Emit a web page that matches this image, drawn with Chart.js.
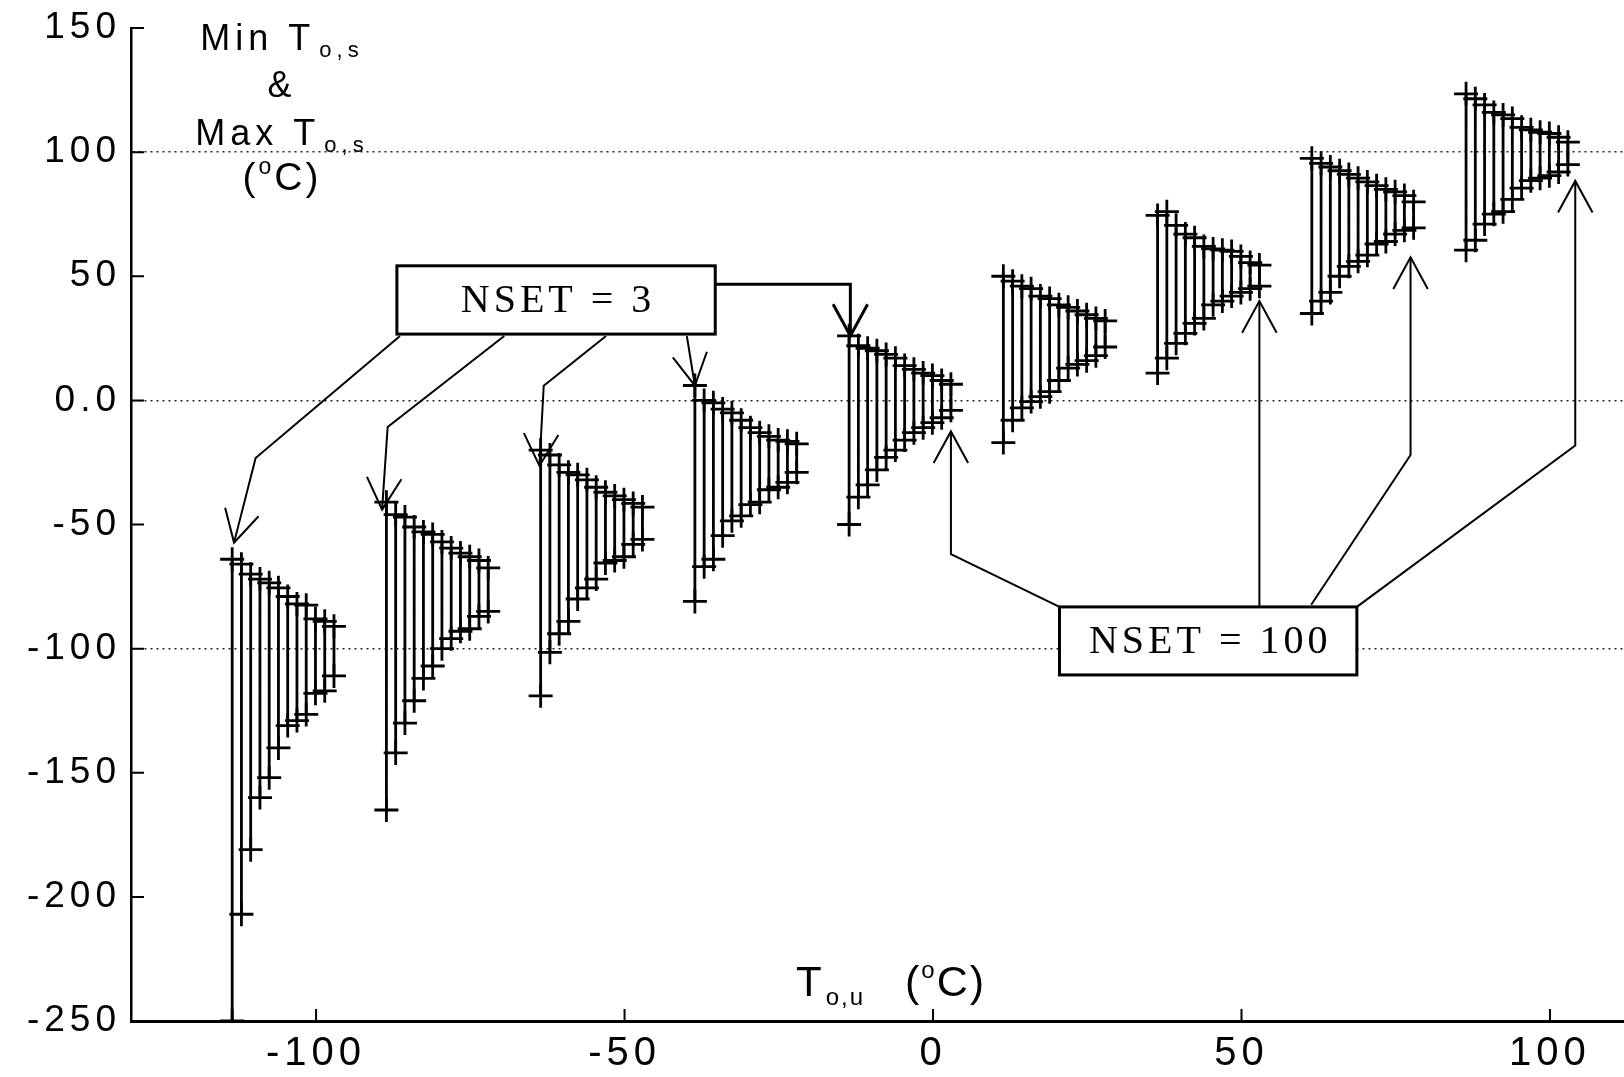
<!DOCTYPE html>
<html lang="en">
<head>
<meta charset="UTF-8">
<title>Min T o,s & Max T o,s vs T o,u</title>
<script src="https://cdn.jsdelivr.net/npm/chart.js"></script>
<style>
  html, body { margin: 0; padding: 0; background: #fff; overflow: hidden; }
  #wrap { width: 1624px; height: 1077px; }
  #chart { display: block; }
</style>
</head>
<body>
<div id="wrap"><canvas id="chart"></canvas></div>
<script>
// T o,u of the first bar in each group, and the x offset of each NSET bar inside a group
const touGroups = [-113.6, -88.6, -63.6, -38.6, -13.6, 11.4, 36.4, 61.4, 86.4];
const nsetOffset = [0, 1.5, 3, 4.5, 6, 7.5, 9, 10.5, 12, 13.5, 15, 16.5];

// Max / Min T o,s for each bar
const max1 = [-64, -66, -70, -72, -73.5, -75.5, -79, -82, -82.5, -88, -89, -91];
const min1 = [-250, -207, -181, -160, -152, -140, -131, -129, -126.5, -118, -117, -111];
const max2 = [-41, -46, -47, -51, -53, -54, -57, -59.5, -61.5, -63, -64.5, -67.5];
const min2 = [-165, -142, -130, -121, -112, -107, -100, -96, -93, -92, -87, -85];
const max3 = [-20, -22, -26, -29, -30, -32, -35, -37, -38.5, -40, -41.5, -43];
const min3 = [-119, -101.5, -94, -89, -80, -75.5, -72, -65.5, -64.5, -63, -58, -56];
const max4 = [6, 0, -1, -3.5, -5, -8, -11, -13, -14.5, -16, -16.5, -17.5];
const min4 = [-81, -67, -64, -54.5, -48.5, -46.5, -42, -41, -36, -35, -33, -29];
const max5 = [26, 22, 21, 20, 18.5, 17, 14, 12.5, 11, 10, 8, 6.5];
const min5 = [-50, -39, -34, -28, -23, -20, -16, -13, -11, -9, -7, -4];
const max6 = [50, 48, 46, 45, 42, 41, 38.5, 37.5, 36, 34.5, 33, 32];
const min6 = [-17, -8, -3, -0.5, 1.5, 3.5, 8, 13, 14.5, 16, 18, 21.5];
const max7 = [74.5, 76, 70.5, 67, 65.5, 62, 61, 60.5, 60, 58, 55.5, 54.5];
const min7 = [11, 17, 23, 27, 31, 33, 38.5, 40, 42, 43.5, 45, 46];
const max8 = [97.5, 95.5, 94, 92.5, 91, 89.5, 88, 86.5, 85, 84, 82.5, 80];
const min8 = [35, 40, 43.5, 50, 54, 56, 58.5, 63, 64, 67, 68.5, 69.5];
const max9 = [123.5, 121.5, 119, 116, 115, 113.5, 110, 109, 108, 107.5, 106, 104];
const min9 = [60.5, 64.5, 71, 75, 76, 81, 85.5, 88.5, 89.5, 90.5, 92, 95];

const xTicks = [-100, -50, 0, 50, 100];
const yTicks = [-250, -200, -150, -100, -50, 0, 50, 100, 150];
const yTickLabels = ['-250', '-200', '-150', '-100', '-50', '0.0', '50', '100', '150'];
const dottedAt = [-100, 0, 100];

const maxVals = [max1, max2, max3, max4, max5, max6, max7, max8, max9];
const minVals = [min1, min2, min3, min4, min5, min6, min7, min8, min9];

// vertical range lines (null breaks the line between bars) and the + markers
const rangePts = [];
const crossPts = [];
touGroups.forEach((x0, g) => {
  nsetOffset.forEach((dx, i) => {
    const x = x0 + dx;
    rangePts.push({ x: x, y: minVals[g][i] }, { x: x, y: maxVals[g][i] }, { x: x, y: null });
    crossPts.push({ x: x, y: minVals[g][i] }, { x: x, y: maxVals[g][i] });
  });
});

// callouts, in data units
const calloutBoxes = [
  { text: 'NSET = 3', x0: -86.9, x1: -35.3, y0: 54.2, y1: 26.7 },
  { text: 'NSET = 100', x0: 20.5, x1: 68.7, y0: -83.2, y1: -110.6 }
];
const calloutArrows = [
  [[-86.4, 25.9], [-109.8, -23.2], [-113.3, -57.3]],
  [[-69.5, 25.9], [-88.4, -10.7], [-89.3, -44.0]],
  [[-53.0, 25.9], [-63.1, 5.9], [-63.8, -26.3]],
  [[-39.9, 25.9], [-38.6, 5.9]],
  [[-35.3, 46.8], [-13.4, 46.8], [-13.4, 26]],
  [[20.5, -83.2], [2.9, -61.9], [2.9, -12.5]],
  [[52.9, -83.2], [52.9, 40]],
  [[61.3, -82.3], [77.4, -22], [77.4, 57.6]],
  [[68.7, -83.2], [104.1, -18.2], [104.1, 88.4]]
];

const SANS = '"Liberation Sans", Arial, sans-serif';
const SERIF = '"Liberation Serif", "Times New Roman", serif';

// draws a line of text pieces (subscripts / superscripts) centred on cx
function drawRuns(ctx, parts, cx, baseline, spacing) {
  ctx.letterSpacing = spacing + 'px';
  let total = 0;
  parts.forEach(p => {
    ctx.font = p.s + 'px ' + SANS;
    p.w = ctx.measureText(p.t).width;
    total += p.w + (p.gap || 0);
  });
  let x = cx - total / 2;
  ctx.textAlign = 'left';
  ctx.textBaseline = 'alphabetic';
  parts.forEach(p => {
    x += p.gap || 0;
    ctx.font = p.s + 'px ' + SANS;
    ctx.fillText(p.t, x, baseline + (p.dy || 0));
    x += p.w;
  });
}

function arrowHead(ctx, from, tip, len, ang) {
  const a = Math.atan2(tip.y - from.y, tip.x - from.x);
  ctx.beginPath();
  ctx.moveTo(tip.x - len * Math.cos(a - ang), tip.y - len * Math.sin(a - ang));
  ctx.lineTo(tip.x, tip.y);
  ctx.lineTo(tip.x - len * Math.cos(a + ang), tip.y - len * Math.sin(a + ang));
  ctx.stroke();
}

const decor = {
  id: 'decor',
  beforeDraw(chart) {
    chart.ctx.letterSpacing = '5px';
  },
  afterDatasetsDraw(chart) {
    const ctx = chart.ctx;
    const xs = chart.scales.x, ys = chart.scales.y;
    const { left, bottom } = chart.chartArea;
    ctx.save();
    ctx.letterSpacing = '0px';
    ctx.strokeStyle = '#000';
    ctx.fillStyle = '#000';

    // inward tick marks
    ctx.lineWidth = 2;
    ctx.beginPath();
    yTicks.forEach(v => {
      const p = ys.getPixelForValue(v);
      ctx.moveTo(left, p); ctx.lineTo(left + 13, p);
    });
    xTicks.forEach(v => {
      const p = xs.getPixelForValue(v);
      ctx.moveTo(p, bottom); ctx.lineTo(p, bottom - 12);
    });
    ctx.stroke();

    // axis titles
    drawRuns(ctx, [{ t: 'Min T', s: 36 }, { t: 'o,s', s: 22, dy: 7, gap: 4 }], 282, 50, 5);
    drawRuns(ctx, [{ t: '&', s: 36 }], 282, 97, 5);
    drawRuns(ctx, [{ t: 'Max T', s: 36 }, { t: 'o,s', s: 22, dy: 7, gap: 4 }], 282, 145, 5);
    drawRuns(ctx, [{ t: '(', s: 39 }, { t: 'o', s: 23, dy: -16 }, { t: 'C)', s: 39 }], 282, 190, 3);
    drawRuns(ctx, [{ t: 'T', s: 42 }, { t: 'o,u', s: 24, dy: 9, gap: 2 },
                   { t: '(', s: 43, gap: 40 }, { t: 'o', s: 24, dy: -18 }, { t: 'C)', s: 43 }], 891, 996, 2);

    // callout arrows
    ctx.letterSpacing = '0px';
    calloutArrows.forEach((path, k) => {
      const pts = path.map(p => ({ x: xs.getPixelForValue(p[0]), y: ys.getPixelForValue(p[1]) }));
      ctx.lineWidth = k === 4 ? 3 : 2;
      ctx.beginPath();
      pts.forEach((p, i) => (i ? ctx.lineTo(p.x, p.y) : ctx.moveTo(p.x, p.y)));
      ctx.stroke();
      arrowHead(ctx, pts[pts.length - 2], pts[pts.length - 1], 36, 0.5);
    });

    // callout boxes
    calloutBoxes.forEach(b => {
      const x0 = xs.getPixelForValue(b.x0), x1 = xs.getPixelForValue(b.x1);
      const y0 = ys.getPixelForValue(b.y0), y1 = ys.getPixelForValue(b.y1);
      ctx.fillStyle = '#fff';
      ctx.fillRect(x0, y0, x1 - x0, y1 - y0);
      ctx.lineWidth = 3;
      ctx.strokeRect(x0, y0, x1 - x0, y1 - y0);
      ctx.fillStyle = '#000';
      ctx.font = '40px ' + SERIF;
      ctx.letterSpacing = '4px';
      ctx.textAlign = 'center';
      ctx.textBaseline = 'middle';
      ctx.fillText(b.text, (x0 + x1) / 2 + 2, (y0 + y1) / 2 + 2);
      ctx.letterSpacing = '0px';
    });
    ctx.restore();
  }
};

new Chart(document.getElementById('chart'), {
  type: 'scatter',
  data: {
    datasets: [
      {
        data: rangePts,
        showLine: true,
        spanGaps: false,
        borderColor: '#000',
        borderWidth: 2.8,
        pointRadius: 0
      },
      {
        data: crossPts,
        pointStyle: 'cross',
        pointRadius: 12,
        pointBorderColor: '#000',
        pointBorderWidth: 2.8,
        borderColor: '#000'
      }
    ]
  },
  options: {
    responsive: true,
    maintainAspectRatio: false,
    animation: false,
    events: [],
    layout: { autoPadding: false, padding: { top: 28, right: 0, bottom: 0, left: 0 } },
    plugins: { legend: { display: false }, tooltip: { enabled: false } },
    scales: {
      x: {
        type: 'linear',
        min: -130,
        max: 112,
        afterBuildTicks: s => { s.ticks = xTicks.map(v => ({ value: v })); },
        afterFit: s => { s.height = 56; },
        grid: { display: false, drawTicks: false },
        border: { color: '#000', width: 3 },
        ticks: { font: { family: SANS, size: 40 }, color: '#000', padding: 9, maxRotation: 0 }
      },
      y: {
        min: -250,
        max: 150,
        afterBuildTicks: s => { s.ticks = yTicks.map(v => ({ value: v })); },
        afterFit: s => { s.width = 131; },
        grid: {
          color: c => (c.tick && dottedAt.includes(c.tick.value)) ? '#222' : 'rgba(0,0,0,0)',
          lineWidth: 1.5,
          drawTicks: false
        },
        border: { color: '#000', width: 2.5, dash: [2, 4] },
        ticks: {
          font: { family: SANS, size: 37, lineHeight: 0.8 },
          color: '#000',
          padding: 10,
          callback: (v, i) => yTickLabels[i]
        }
      }
    }
  },
  plugins: [decor]
});
</script>
</body>
</html>
